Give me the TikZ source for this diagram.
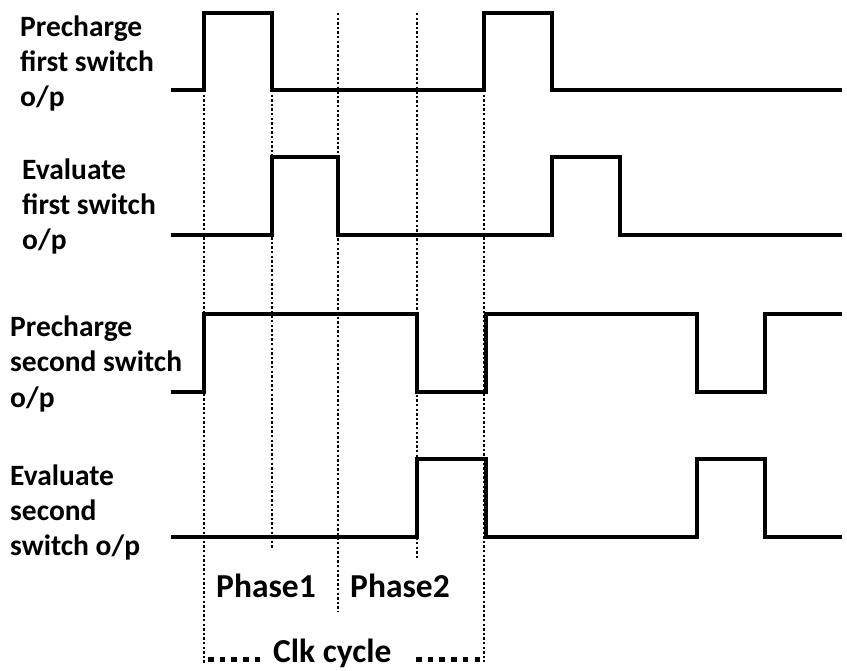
\documentclass[tikz,border=0pt]{standalone}
\usepackage{fontspec}
\setmainfont{Carlito}
\begin{document}
\begin{tikzpicture}[x=1pt,y=-1pt,
  lbl/.style={anchor=base west,inner sep=0pt,font=\fontsize{29.5}{35}\selectfont\bfseries},
  blbl/.style={anchor=base west,inner sep=0pt,font=\fontsize{33.5}{38}\selectfont\bfseries},
  wave/.style={line width=4pt,line join=miter},
  grid/.style={line width=2.4pt,dash pattern=on 2.4pt off 2.2pt},
  brk/.style={line width=5pt,dash pattern=on 5.5pt off 6.2pt}]
\useasboundingbox (0,0) rectangle (847,671);
% labels
\node[lbl] (l1a) at (20,37) {Precharge};
\node[lbl] (l1b) at (20,72) {first switch};
\node[lbl] (l1c) at (20,107) {o/p};
\node[lbl] (l2a) at (22,180) {Evaluate};
\node[lbl] (l2b) at (22,215) {first switch};
\node[lbl] (l2c) at (22,250) {o/p};
\node[lbl] (l3a) at (10,337) {Precharge};
\node[lbl] (l3b) at (10,372) {second switch};
\node[lbl] (l3c) at (10,407) {o/p};
\node[lbl] (l4a) at (10,485) {Evaluate};
\node[lbl] (l4b) at (10,520) {second};
\node[lbl] (l4c) at (10,555) {switch o/p};
\node[blbl] (ph1) at (216,597) {Phase1};
\node[blbl] (ph2) at (350,597) {Phase2};
\node[blbl] (clk) at (273,662) {Clk cycle};
% dotted grid lines
\draw[grid] (204,90) -- (204,664);
\draw[grid] (272,90) -- (272,548);
\draw[grid] (338,13) -- (338,612);
\draw[grid] (417,13) -- (417,558);
\draw[grid] (484,90) -- (484,662);
% clock cycle bracket
\draw[brk] (208,659) -- (262,659);
\draw[brk] (416,659) -- (484,659);
% waveforms
\draw[wave] (171,90) -- (204,90) -- (204,13) -- (272,13) -- (272,90) -- (484,90)
  -- (484,13) -- (552,13) -- (552,90) -- (842,90);
\draw[wave] (171,235) -- (272,235) -- (272,157) -- (338,157) -- (338,235) -- (552,235)
  -- (552,157) -- (620,157) -- (620,235) -- (842,235);
\draw[wave] (171,392) -- (204,392) -- (204,314) -- (417,314) -- (417,392) -- (486,392)
  -- (486,314) -- (697,314) -- (697,392) -- (765,392) -- (765,314) -- (842,314);
\draw[wave] (171,537) -- (417,537) -- (417,459) -- (486,459) -- (486,537) -- (697,537)
  -- (697,459) -- (765,459) -- (765,537) -- (842,537);
\end{tikzpicture}
\end{document}
